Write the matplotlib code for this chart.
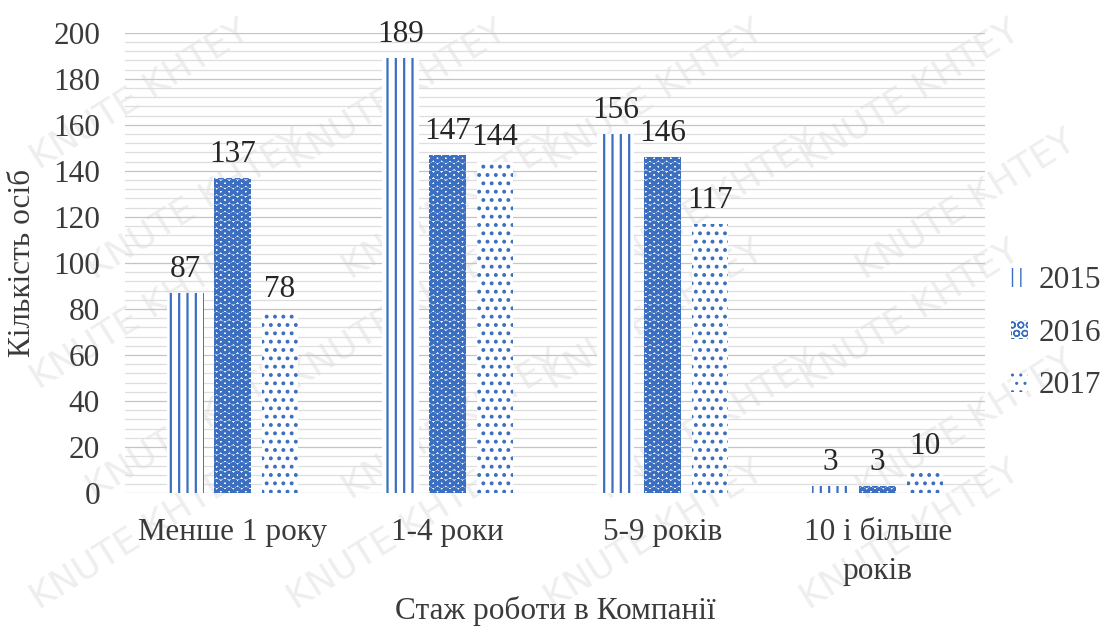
import matplotlib
matplotlib.use("Agg")
import matplotlib.pyplot as plt
import numpy as np
from matplotlib.patches import Patch

categories = ["Менше 1 року", "1-4 роки", "5-9 років", "10 і більше\nроків"]
years = ["2015", "2016", "2017"]
v2015 = [87, 189, 156, 3]
v2016 = [137, 147, 146, 3]
v2017 = [78, 144, 117, 10]
yticks = list(range(0, 201, 20))

blue = "#3c6fbf"
txt = "#3a3a3a"
fs = 22.5
plt.rcParams["font.family"] = ["Liberation Serif", "DejaVu Serif"]
plt.rcParams["hatch.color"] = blue

fig = plt.figure(figsize=(11.17, 6.29), dpi=100)
ax = fig.add_axes([0.112, 0.216, 0.770, 0.732])
ax.set_facecolor("none")
ax.set_zorder(2)

# faint diagonal watermark text placed behind the chart
for row in range(5):
    for col in range(4):
        fig.text(0.125 + col * 0.23 + (row % 2) * 0.05, 0.15 + row * 0.175, "KNUTE KHTEY",
                 fontsize=26, family="DejaVu Sans", color="#eeeeee",
                 rotation=32, ha="center", va="center", zorder=0)

# grid: fine lines every 4, stronger lines every 20
for y in range(0, 201, 4):
    ax.axhline(y, color="#dedede" if y % 20 else "#c4c4c4", lw=0.9, zorder=1)

x = np.arange(len(categories))
w = 0.17
step = 0.22
hatches = ["||", "OO", ".."]
hatch_lw = [1.6, 2.2, 1.6]
series = [v2015, v2016, v2017]
for i, (vals, h, hlw) in enumerate(zip(series, hatches, hatch_lw)):
    pos = x + (i - 1) * step
    bars = ax.bar(pos, vals, width=w, facecolor="white", edgecolor=blue,
                  linewidth=0, hatch=h, zorder=2)
    for b in bars:
        b.set_hatch_linewidth(hlw)
    for b, v in zip(bars, vals):
        ax.text(b.get_x() + b.get_width() / 2, v + 4, str(v), ha="center",
                va="bottom", fontsize=fs, color="#262626", zorder=3)

ax.set_xlim(-0.5, 3.5)
ax.set_ylim(0, 200)
ax.set_yticks(yticks)
ax.set_xticks(x)
ax.set_xticklabels(categories, fontsize=fs, color=txt, linespacing=1.45)
ax.tick_params(axis="y", labelsize=fs, labelcolor=txt, length=0, pad=18)
ax.tick_params(axis="x", length=0, pad=18)
for s in ax.spines.values():
    s.set_visible(False)

ax.set_ylabel("Кількість осіб", fontsize=fs, color=txt, labelpad=12)
ax.set_xlabel("Стаж роботи в Компанії", fontsize=fs, color=txt, labelpad=7)

handles = []
for h, hlw in zip(hatches, hatch_lw):
    p = Patch(facecolor="white", edgecolor=blue, linewidth=0, hatch=h)
    p.set_hatch_linewidth(hlw)
    handles.append(p)
leg = fig.legend(handles, years, loc="center left", bbox_to_anchor=(0.905, 0.47),
                 frameon=False, fontsize=fs, labelcolor=txt,
                 handlelength=0.55, handleheight=0.55, handletextpad=0.35,
                 labelspacing=0.75, borderpad=0, borderaxespad=0)
leg.set_zorder(3)

fig.savefig("out.png", dpi=100)
